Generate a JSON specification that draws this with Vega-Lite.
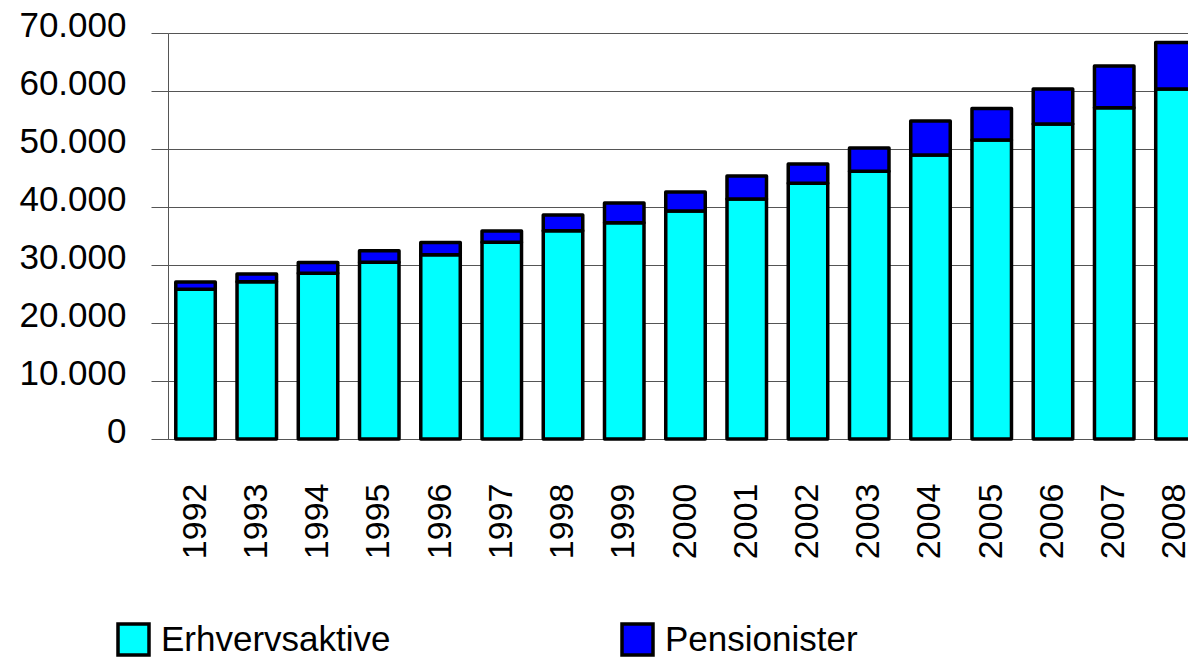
{
  "$schema": "https://vega.github.io/schema/vega-lite/v6.json",
  "width": 1035,
  "height": 406,
  "autosize": {"type": "pad"},
  "padding": {"left": 18, "top": 8, "right": 0, "bottom": 0},
  "background": "white",
  "config": {"view": {"stroke": null}, "font": "Liberation Sans"},
  "data": {
    "values": [
      {"year": "1992", "group": "Erhvervsaktive", "value": 25810},
      {"year": "1992", "group": "Pensionister", "value": 1260},
      {"year": "1993", "group": "Erhvervsaktive", "value": 27120},
      {"year": "1993", "group": "Pensionister", "value": 1330},
      {"year": "1994", "group": "Erhvervsaktive", "value": 28570},
      {"year": "1994", "group": "Pensionister", "value": 1860},
      {"year": "1995", "group": "Erhvervsaktive", "value": 30460},
      {"year": "1995", "group": "Pensionister", "value": 1990},
      {"year": "1996", "group": "Erhvervsaktive", "value": 31770},
      {"year": "1996", "group": "Pensionister", "value": 2110},
      {"year": "1997", "group": "Erhvervsaktive", "value": 33910},
      {"year": "1997", "group": "Pensionister", "value": 1950},
      {"year": "1998", "group": "Erhvervsaktive", "value": 35910},
      {"year": "1998", "group": "Pensionister", "value": 2710},
      {"year": "1999", "group": "Erhvervsaktive", "value": 37290},
      {"year": "1999", "group": "Pensionister", "value": 3400},
      {"year": "2000", "group": "Erhvervsaktive", "value": 39310},
      {"year": "2000", "group": "Pensionister", "value": 3270},
      {"year": "2001", "group": "Erhvervsaktive", "value": 41380},
      {"year": "2001", "group": "Pensionister", "value": 3960},
      {"year": "2002", "group": "Erhvervsaktive", "value": 44080},
      {"year": "2002", "group": "Pensionister", "value": 3330},
      {"year": "2003", "group": "Erhvervsaktive", "value": 46150},
      {"year": "2003", "group": "Pensionister", "value": 4020},
      {"year": "2004", "group": "Erhvervsaktive", "value": 48960},
      {"year": "2004", "group": "Pensionister", "value": 5860},
      {"year": "2005", "group": "Erhvervsaktive", "value": 51550},
      {"year": "2005", "group": "Pensionister", "value": 5430},
      {"year": "2006", "group": "Erhvervsaktive", "value": 54310},
      {"year": "2006", "group": "Pensionister", "value": 6030},
      {"year": "2007", "group": "Erhvervsaktive", "value": 57120},
      {"year": "2007", "group": "Pensionister", "value": 7190},
      {"year": "2008", "group": "Erhvervsaktive", "value": 60340},
      {"year": "2008", "group": "Pensionister", "value": 8020}
    ]
  },
  "mark": {"type": "bar", "stroke": "black", "strokeWidth": 3.5, "strokeJoin": "round"},
  "encoding": {
    "x": {
      "field": "year",
      "type": "ordinal",
      "scale": {"paddingInner": 0.355, "paddingOuter": 0.127},
      "axis": {
        "title": null,
        "labelAngle": -90,
        "labelAlign": "right",
        "labelBaseline": "middle",
        "labelFont": "Liberation Sans",
        "labelFontSize": 34,
        "labelColor": "black",
        "ticks": false,
        "labelPadding": 44,
        "domainColor": "#555555",
        "domainWidth": 1
      }
    },
    "y": {
      "field": "value",
      "type": "quantitative",
      "stack": "zero",
      "scale": {"domain": [0, 70000], "nice": false},
      "axis": {
        "title": null,
        "values": [0, 10000, 20000, 30000, 40000, 50000, 60000, 70000],
        "labelExpr": "replace(format(datum.value, ','), ',', '.')",
        "labelFont": "Liberation Sans",
        "labelFontSize": 35,
        "labelColor": "black",
        "labelPadding": 25,
        "labelOffset": -8,
        "tickSize": 17,
        "tickColor": "#555555",
        "domainColor": "#555555",
        "grid": true,
        "gridColor": "#555555",
        "gridOpacity": 1
      }
    },
    "order": {"field": "group", "sort": "ascending"},
    "color": {
      "field": "group",
      "type": "nominal",
      "scale": {"domain": ["Erhvervsaktive", "Pensionister"], "range": ["#00FFFF", "#0000FF"]},
      "legend": {
        "orient": "none",
        "legendX": -52,
        "legendY": 589,
        "direction": "horizontal",
        "title": null,
        "padding": 0,
        "symbolType": "square",
        "symbolSize": 961,
        "symbolStrokeColor": "black",
        "symbolStrokeWidth": 3.5,
        "symbolOpacity": 1,
        "labelFont": "Liberation Sans",
        "labelFontSize": 35,
        "labelColor": "black",
        "labelLimit": 500,
        "labelOffset": 10,
        "columnPadding": 224
      }
    }
  }
}
